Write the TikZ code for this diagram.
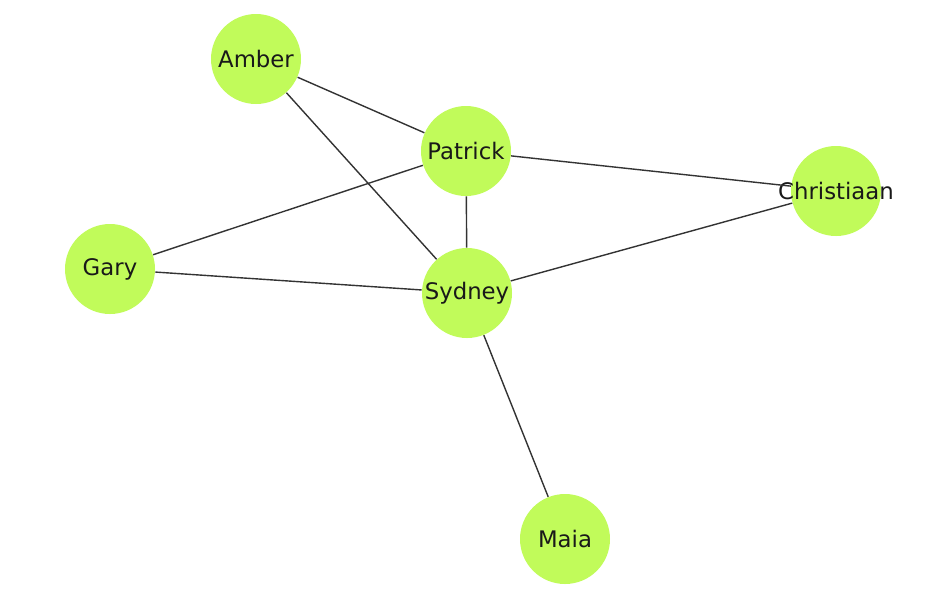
\documentclass[tikz,border=0pt]{standalone}
\usepackage{fontspec}
\setmainfont{DejaVu Sans}
\usetikzlibrary{positioning}
\definecolor{nodegreen}{RGB}{193,251,90}
\definecolor{edgegrey}{RGB}{51,51,51}
\newcommand{\personname}[1]{\makebox[0pt]{#1}}
\tikzset{
  person/.style = {
    circle, fill=nodegreen, minimum size=45pt, inner sep=0pt,
    font=\fontsize{11.4}{13}\selectfont, text=black!90
  },
  link/.style = {draw=edgegrey, line width=0.7pt},
}

\begin{document}
\begin{tikzpicture}[x=0.5pt, y=-0.5pt]
    \useasboundingbox (0,0) rectangle (932,602);

    % People
    \node[person] (amber) at (256,59) {\personname{Amber}};
    \node[person] (patrick) at (466,151) {\personname{Patrick}};
    \node[person] (christiaan) at (836,191) {\personname{Christiaan}};
    \node[person] (gary) at (110,269) {\personname{Gary}};
    \node[person] (sydney) at (467,293) {\personname{Sydney}};
    \node[person] (maia) at (565,539) {\personname{Maia}};

    % Links
    \draw[link] (amber) -- (patrick);
    \draw[link] (amber) -- (sydney);
    \draw[link] (patrick) -- (christiaan);
    \draw[link] (patrick) -- (sydney);
    \draw[link] (patrick) -- (gary);
    \draw[link] (gary) -- (sydney);
    \draw[link] (sydney) -- (christiaan);
    \draw[link] (sydney) -- (maia);
\end{tikzpicture}
\end{document}
